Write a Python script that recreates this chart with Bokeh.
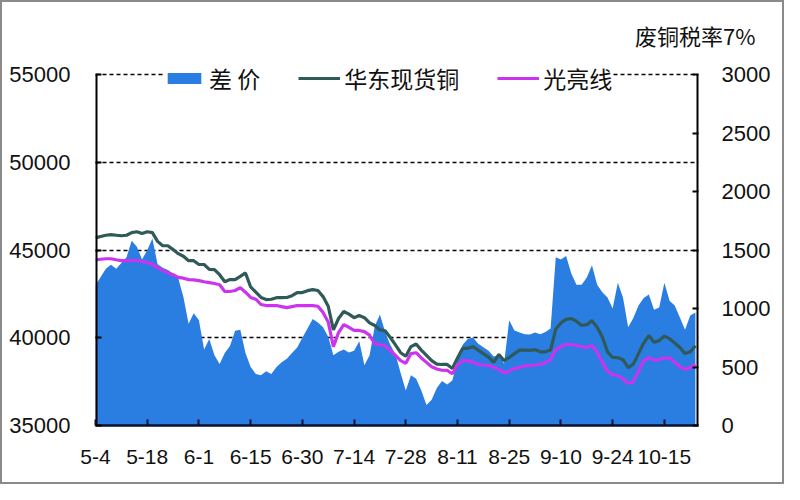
from bokeh.plotting import figure
from bokeh.models import Range1d, LinearAxis, FixedTicker, Legend, LegendItem, Title
from bokeh.embed import file_html
from bokeh.resources import INLINE

# ---- data ----
tick_labels = ["5-4", "5-18", "6-1", "6-15", "6-30", "7-14", "7-28", "8-11",
               "8-25", "9-10", "9-24", "10-15"]
tick_pos = [0, 10, 20, 30, 40, 50, 60, 70, 80, 90, 100, 110]
left_ticks = [35000, 40000, 45000, 50000, 55000]
right_ticks = [0, 500, 1000, 1500, 2000, 2500, 3000]

copper = [45700, 45780, 45850, 45880, 45850, 45820, 45850, 46000, 46050, 45950,
          46050, 46000, 45500, 45250, 45250, 45030, 44800, 44650, 44400, 44400,
          44180, 44180, 43900, 43890, 43600, 43200, 43320, 43320, 43500, 43700,
          42900, 42600, 42300, 42180, 42200, 42290, 42290, 42300, 42400, 42580,
          42580, 42690, 42750, 42700, 42350, 41800, 40450, 41100, 41500, 41350,
          41150, 41270, 41150, 40850, 40700, 40450, 40400, 40020, 39600, 39150,
          38950, 39500, 39650, 39300, 39000, 38700, 38500, 38480, 38480, 38250,
          38850, 39400, 39400, 39500, 39300, 39100, 38900, 38600, 39050, 38700,
          38880, 39100, 39300, 39300, 39280, 39330, 39200, 39200, 39300, 40500,
          40850, 41050, 41100, 40950, 40700, 40750, 40980, 40600, 40050, 39200,
          38880, 38870, 38750, 38300, 38500, 39100, 39700, 40130, 39750, 39840,
          40100, 39950, 39700, 39450, 39100, 39200, 39550]

bright = [44450, 44480, 44510, 44510, 44450, 44400, 44400, 44400, 44400, 44350,
          44290, 44200, 44000, 43850, 43700, 43600, 43450, 43400, 43320, 43300,
          43260, 43200, 43150, 43100, 43030, 42640, 42640, 42700, 42860, 42600,
          42300, 42200, 41900, 41840, 41840, 41840, 41780, 41720, 41780, 41840,
          41840, 41840, 41840, 41800, 41450, 40900, 39500, 40300, 40750, 40600,
          40420, 40420, 40350, 40150, 39650, 39620, 39550, 39280, 39000, 38700,
          38550, 39100, 39150, 38850, 38600, 38350, 38220, 38150, 38140, 37950,
          38450, 38700, 38700, 38600, 38480, 38450, 38420, 38320, 38200, 38000,
          38100, 38250, 38300, 38420, 38420, 38450, 38480, 38590, 38760, 39330,
          39500, 39620, 39620, 39560, 39500, 39450, 39560, 39200, 38600, 38100,
          37900, 37850, 37650, 37400, 37500, 38100, 38700, 38870, 38720, 38760,
          38850, 38860, 38600, 38350, 38200, 38300, 38480]

spread = [1200, 1270, 1340, 1376, 1340, 1390, 1440, 1580, 1530, 1420,
          1500, 1600, 1380, 1350, 1330, 1300, 1260, 1100, 870, 960,
          900, 650, 740, 600, 525, 620, 680, 810, 820, 620,
          500, 440, 430, 465, 440, 500, 540, 570, 620, 667,
          750, 830, 910, 880, 840, 760, 600, 630, 650, 625,
          640, 720, 515, 600, 850, 950, 800, 690, 610, 450,
          300, 430, 400, 300, 175, 220, 320, 380, 350, 385,
          560, 690, 740, 752, 700, 670, 640, 590, 600, 530,
          900, 812, 795, 780, 778, 795, 780, 800, 830, 1440,
          1420, 1450, 1300, 1205, 1205, 1265, 1370, 1205, 1140, 1094,
          1000, 1222, 1094, 840, 920, 1026, 1090, 1120, 990, 1009,
          1222, 1068, 1026, 923, 820, 940, 966]

idx = list(range(len(copper)))

NUM_FONT = "Liberation Sans"
CJK_FONT = "Noto Sans CJK SC"

X_END = 116.6
Y_TOP = 55700      # a little room above 55000 so the legend sits inside
R_TOP = 3105       # same height on the right scale (3000 <-> 55000)

p = figure(width=784, height=484, output_backend="svg", toolbar_location=None,
           x_range=Range1d(0, X_END), y_range=Range1d(35000, Y_TOP),
           min_border_left=93, min_border_right=88, min_border_top=60,
           min_border_bottom=61)
p.extra_y_ranges = {"right": Range1d(0, R_TOP)}
p.outline_line_color = None
p.background_fill_color = "white"
p.border_fill_color = "white"

# note at top right (right-aligned title shifted over the right axis)
p.title = Title(text="废铜税率7%", align="right", offset=-57, standoff=20,
                vertical_align="top", text_font=CJK_FONT, text_font_size="22px",
                text_font_style="normal", text_color="#111111")

# grid
p.xgrid.grid_line_color = None
p.ygrid.grid_line_color = "black"
p.ygrid.grid_line_dash = "4 3"
p.ygrid.grid_line_width = 1.5
p.ygrid.ticker = FixedTicker(ticks=left_ticks[1:])

# area + lines
r_area = p.varea(x=idx, y1=0, y2=spread, y_range_name="right",
                 fill_color="#2a7de1", fill_alpha=1.0)
r_cu = p.line(idx, copper, line_color="#2f5a58", line_width=3.2)
r_br = p.line(idx, bright, line_color="#cc33ee", line_width=3.2)

# vertical axis lines only between 35000 and 55000 (as in the reference)
p.segment(x0=[0, X_END], y0=[left_ticks[0]] * 2, x1=[0, X_END],
          y1=[left_ticks[-1]] * 2, line_color="black", line_width=4)

# axes
ax_left = p.yaxis[0]
ax_left.ticker = FixedTicker(ticks=left_ticks)
ax_right = LinearAxis(y_range_name="right", ticker=FixedTicker(ticks=right_ticks))
p.add_layout(ax_right, "right")

for ax, so in ((ax_left, 25), (ax_right, 23)):
    ax.axis_line_color = None
    ax.major_tick_in = 6
    ax.major_tick_out = 0
    ax.minor_tick_line_color = None
    ax.major_tick_line_color = "black"
    ax.major_tick_line_width = 2
    ax.major_label_text_font = NUM_FONT
    ax.major_label_text_font_size = "22px"
    ax.major_label_text_color = "#111111"
    ax.major_label_standoff = so

ax_b = p.xaxis[0]
ax_b.ticker = FixedTicker(ticks=tick_pos)
ax_b.major_label_overrides = {t: l for t, l in zip(tick_pos, tick_labels)}
ax_b.axis_line_color = "#0a1030"
ax_b.axis_line_width = 2.5
ax_b.major_tick_in = 6
ax_b.major_tick_out = 0
ax_b.major_tick_line_color = "#0a1030"
ax_b.major_tick_line_width = 2
ax_b.minor_tick_line_color = None
ax_b.major_label_text_font = NUM_FONT
ax_b.major_label_text_font_size = "21px"
ax_b.major_label_text_color = "#111111"
ax_b.major_label_standoff = 24

# legend covering the middle of the 55000 grid line
legend = Legend(items=[
    LegendItem(label="差 价", renderers=[r_area]),
    LegendItem(label="华东现货铜", renderers=[r_cu]),
    LegendItem(label="光亮线", renderers=[r_br]),
], orientation="horizontal", location=(68, 330))
legend.label_text_font = CJK_FONT
legend.label_text_font_size = "23px"
legend.label_text_color = "#111111"
legend.label_height = 24
legend.glyph_width = 42
legend.glyph_height = 14
legend.spacing = 38
legend.label_standoff = 4
legend.padding = 6
legend.margin = 0
legend.border_line_color = None
legend.background_fill_color = "white"
legend.background_fill_alpha = 1.0
p.add_layout(legend, "center")

p.styles = {"border": "2px solid #8a8a8a"}

open("out.html", "w").write(file_html(p, INLINE))
